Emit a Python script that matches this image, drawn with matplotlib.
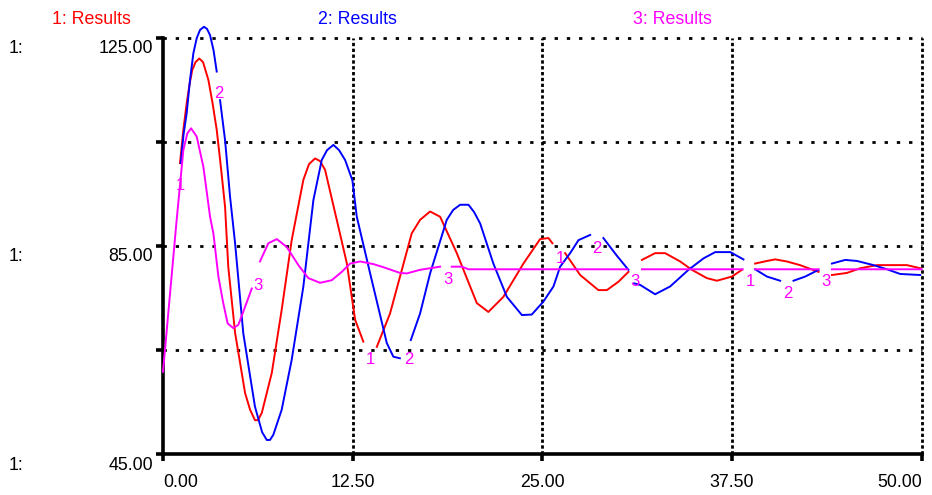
import numpy as np
import matplotlib.pyplot as plt
from matplotlib import transforms

plt.rcParams['font.family'] = ['Liberation Sans', 'DejaVu Sans']

nan = np.nan

# series 1 (red), nan = gap left for a curve label
t1 = [1.12, 1.34, 1.56, 1.75, 1.93, 2.14, 2.39, 2.64, 2.99, 3.26, 3.54, 3.82, 4.09, 4.30,
      4.75, 5.41, 5.74, 6.06, 6.26, 6.51, 7.17,
      7.82, 8.48, 9.25, 9.62, 10.02, 10.35, 10.68, 11.45, 12.11, 12.66, 13.20, nan,
      14.09, 14.96, 16.39, 16.94, 17.60, 18.26, 19.36, 20.68, 21.44, 22.43, 23.75, 24.85,
      25.40, 25.66, nan,
      26.50, 27.49, 28.69, 29.25, 30.01, 30.67, nan,
      31.56, 32.43, 33.09, 34.08, 34.85, 35.84, 36.50, 37.49, 38.15, nan,
      39.02, 39.80, 40.34, 41.11, 41.98, 43.20, nan,
      44.08, 45.07, 45.95, 47.05, 49.02, 49.90]
v1 = [100.9, 107.3, 112.4, 116.1, 118.8, 120.3, 121.0, 120.3, 116.9, 112.5, 107.3, 100.0, 92.5, 81.0,
      68.3, 56.7, 53.5, 51.5, 51.5, 52.9, 60.6,
      72.7, 86.1, 97.7, 100.7, 101.8, 101.3, 99.6, 90.0, 81.7, 70.8, 66.6, nan,
      65.6, 72.0, 87.4, 90.0, 91.6, 90.6, 83.6, 74.0, 72.3, 75.2, 81.6, 86.3,
      86.5, 85.5, nan,
      83.6, 79.4, 76.5, 76.5, 78.1, 80.0, nan,
      82.3, 83.6, 83.6, 82.0, 80.4, 78.8, 78.3, 79.1, 80.4, nan,
      81.6, 82.1, 82.4, 82.0, 81.3, 80.0, nan,
      79.4, 79.8, 80.7, 81.3, 81.3, 80.7]

# series 2 (blue)
t2 = [1.17, 1.35, 1.56, 1.78, 2.00, 2.22, 2.44, 2.70, 2.90, 3.10, 3.33, 3.54, nan,
      3.76, 4.09, 4.42, 4.75, 5.29, 6.06, 6.53, 6.84, 7.05, 7.27, 7.82, 8.48, 9.25, 9.91,
      10.46, 10.81, 11.23, 11.60, 12.00, 12.48, 12.77, 13.65, 14.75, 15.18, 15.61, nan,
      16.33, 16.94, 17.60, 18.70, 19.12, 19.58, 20.13, 20.50, 20.90, 21.77, 22.66, 23.65,
      24.30, 25.07, 25.73, 26.17, 26.83, 27.38, 28.15, nan,
      29.02, 29.91, 30.67, nan,
      31.05, 31.44, 32.43, 33.42, 34.63, 35.62, 36.39, 37.38, 38.25, nan,
      39.02, 39.80, 40.67, nan,
      41.55, 42.32, 43.20, nan,
      44.08, 44.96, 45.73, 46.82, 47.71, 48.58, 49.90]
v2 = [100.9, 106.3, 110.5, 116.9, 122.0, 124.9, 126.5, 127.1, 126.7, 125.5, 122.6, 118.5, nan,
      113.0, 105.3, 94.4, 85.5, 68.2, 54.1, 49.2, 47.7, 47.7, 48.7, 53.5, 63.1, 77.2, 93.8,
      101.5, 103.4, 104.4, 103.4, 101.5, 97.6, 90.6, 79.7, 66.3, 63.7, 63.4, nan,
      66.9, 72.0, 79.7, 90.0, 91.9, 92.9, 92.9, 91.5, 89.3, 81.6, 75.2, 71.7,
      71.8, 74.3, 77.2, 81.0, 83.6, 86.1, 87.1, nan,
      86.5, 83.1, 80.4, nan,
      77.8, 77.5, 75.7, 77.2, 80.4, 82.6, 83.8, 83.8, 82.4, nan,
      80.5, 79.1, 78.3, nan,
      78.3, 79.1, 80.4, nan,
      81.6, 82.3, 82.1, 81.3, 80.5, 79.6, 79.4]

# series 3 (magenta)
t3 = [0.0, 0.90, 1.34, 1.60, 1.85, 2.22, 2.66, 3.10, 3.32, 3.65, 3.97, 4.26, 4.63, 4.96,
      5.41, 5.85, nan,
      6.39, 6.94, 7.50, 8.15, 8.92, 9.58, 10.35, 11.12, 11.78, 12.33, 12.99, 13.86,
      14.52, 15.62, 16.06, 16.94, 17.60, 18.26, nan,
      19.03, 19.69, 20.13, 25.0, 30.60, nan,
      31.56, 38.20, nan,
      39.02, 43.20, nan,
      44.08, 50.0]
v3 = [60.8, 90.0, 103.4, 106.6, 107.6, 106.0, 100.2, 90.6, 87.4, 79.1, 74.0, 70.1, 69.2, 69.8,
      73.3, 76.8, nan,
      82.0, 85.5, 86.3, 84.8, 81.3, 78.8, 77.9, 78.4, 80.0, 81.6, 82.0, 81.5,
      80.9, 79.8, 79.7, 80.4, 80.7, 81.0, nan,
      81.0, 81.0, 80.5, 80.5, 80.5, nan,
      80.5, 80.5, nan,
      80.5, 80.5, nan,
      80.5, 80.5]

# curve labels (number, t, value)
label_txt = ['1', '2', '3', '1', '2', '3', '1', '2', '3', '1', '2', '3']
label_t = [1.12, 3.71, 6.24, 13.65, 16.17, 18.75, 26.2, 28.6, 31.1, 38.7, 41.2, 43.7]
label_v = [96.6, 114.2, 77.3, 63.1, 63.1, 78.6, 82.6, 84.5, 78.2, 78.1, 75.9, 78.1]

xticks = [0, 12.5, 25, 37.5, 50]
yticks = [45, 65, 85, 105, 125]
ylabels = {45: '45.00', 85: '85.00', 125: '125.00'}

RED, BLUE, MAG = '#ff0000', '#0000ff', '#ff00ff'
FS = 12.8

fig = plt.figure(figsize=(9.32, 4.95), dpi=100)
ax = fig.add_axes([0.1749, 0.0828, 0.8141, 0.841])
ax.set_xlim(0, 50)
ax.set_ylim(45, 125)

# dotted grid
for y in yticks[1:]:
    ax.plot([0, 50], [y, y], color='black', lw=2.0, ls=(0, (1.2, 3.2)), clip_on=False, zorder=1)
for x in xticks[1:]:
    ax.plot([x, x], [45, 125], color='black', lw=2.0, ls=(0, (1.2, 0.9)), clip_on=False, zorder=1)

ax.plot(t1, v1, color=RED, lw=1.4, zorder=3, clip_on=False)
ax.plot(t2, v2, color=BLUE, lw=1.4, zorder=3, clip_on=False)
ax.plot(t3, v3, color=MAG, lw=1.4, zorder=4, clip_on=False)

for s, x, y in zip(label_txt, label_t, label_v):
    ax.text(x, y, s, color=MAG, fontsize=12, ha='center', va='center', zorder=5)

for side in ['top', 'right']:
    ax.spines[side].set_visible(False)
for side in ['left', 'bottom']:
    ax.spines[side].set_linewidth(2.6)

ax.set_xticks(xticks)
ax.set_yticks(yticks)
ax.set_xticklabels([])
ax.set_yticklabels([])
ax.tick_params(direction='out', length=5, width=2.6, color='black')

# y labels sit just below their tick, with the "1:" scale marker on the far left
down = transforms.ScaledTranslation(0, -11 / 100, fig.dpi_scale_trans)
tr = transforms.blended_transform_factory(fig.transFigure, ax.transData) + down
for y, s in ylabels.items():
    ax.text(153 / 932, y, s, transform=tr, ha='right', va='center', fontsize=FS, color='black')
    ax.text(9 / 932, y, '1:', transform=tr, ha='left', va='center', fontsize=FS, color='black')

for x in xticks:
    ha = 'left' if x == 0 else ('right' if x == 50 else 'center')
    ax.text(x, -0.068, f'{x:.2f}', transform=ax.get_xaxis_transform(), ha=ha, va='center',
            fontsize=FS, color='black')

fig.text(52 / 932, 1 - 19 / 495, '1: Results', color=RED, fontsize=FS, va='center')
fig.text(318 / 932, 1 - 19 / 495, '2: Results', color=BLUE, fontsize=FS, va='center')
fig.text(633 / 932, 1 - 19 / 495, '3: Results', color=MAG, fontsize=FS, va='center')

fig.savefig('out.png', dpi=100)
